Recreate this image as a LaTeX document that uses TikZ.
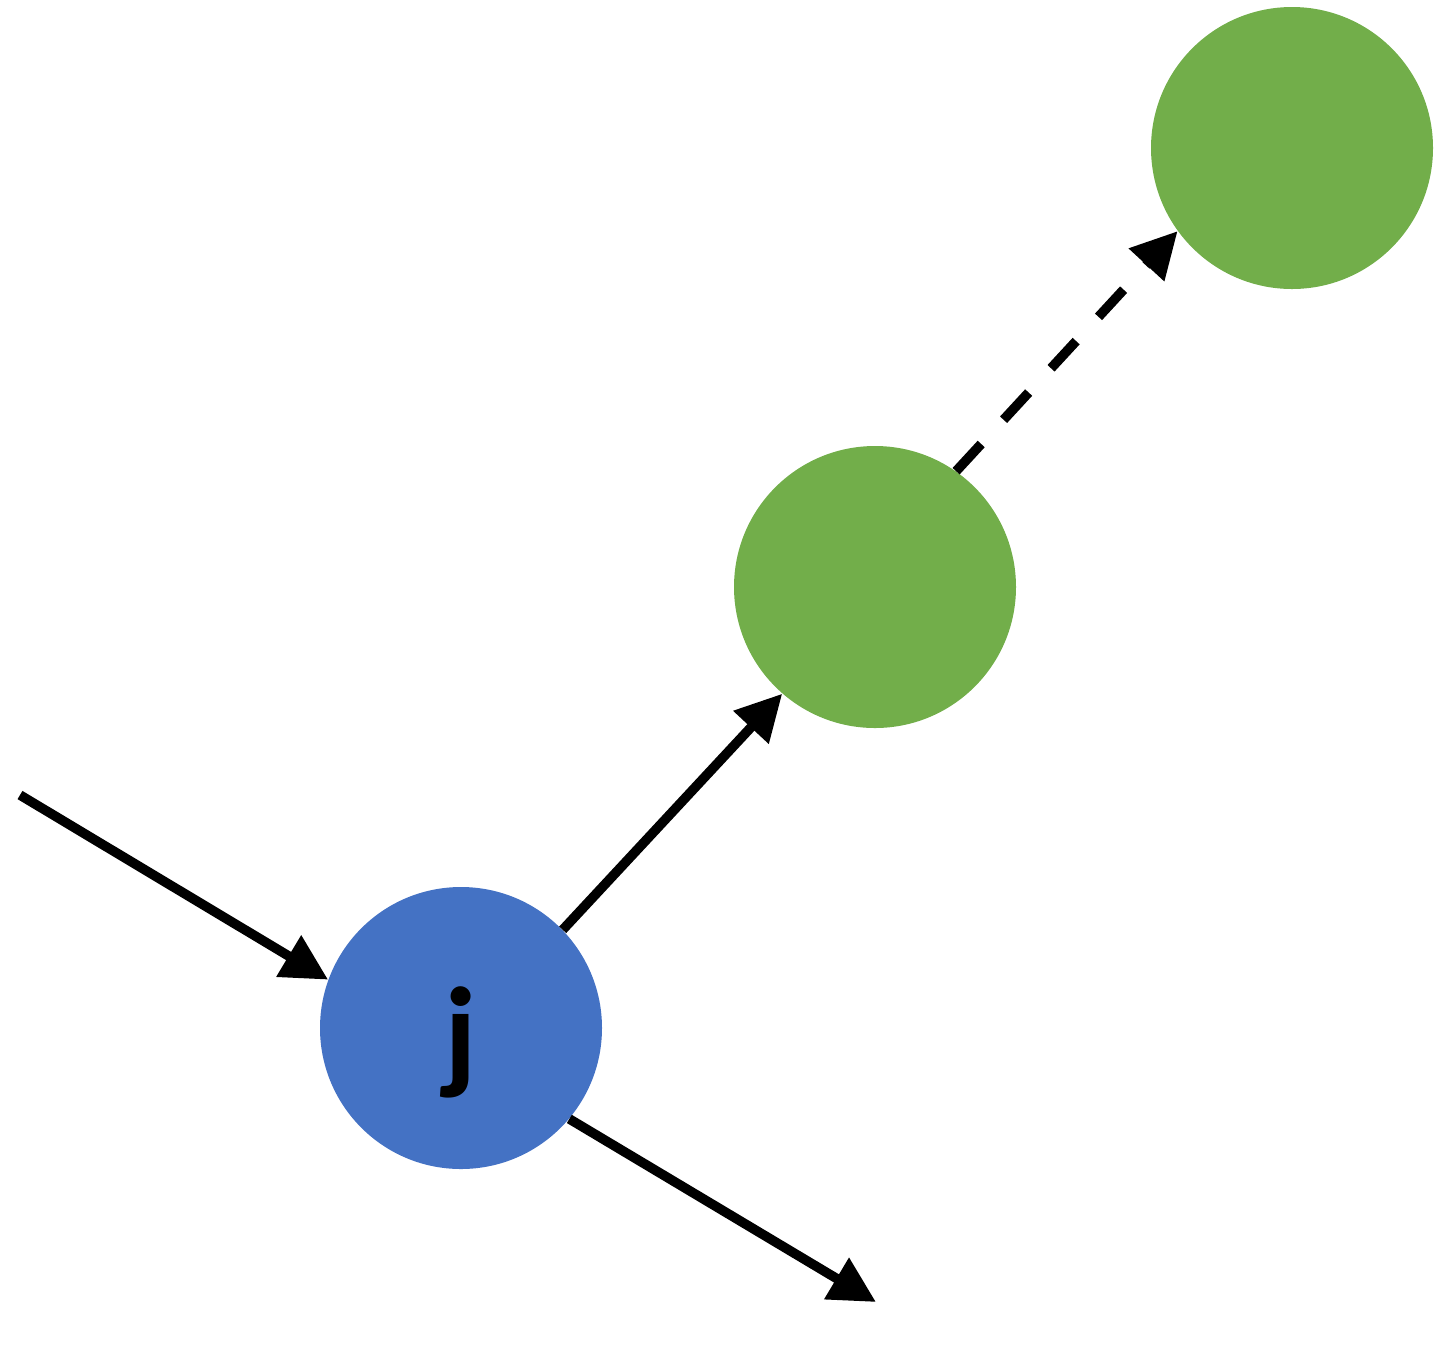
\documentclass[tikz,border=0pt]{standalone}
\usepackage{fontspec}
\setmainfont{Carlito}
\usetikzlibrary{arrows.meta}
\definecolor{nodeblue}{HTML}{4472C4}
\definecolor{nodegreen}{HTML}{72AE4A}
\begin{document}
\begin{tikzpicture}[x=0.5pt,y=-0.5pt,
  dot/.style={circle,inner sep=0pt,minimum size=141pt,draw=none},
  conn/.style={line width=4.8pt,-{Triangle[length=23pt,width=23pt]}},
  dashconn/.style={conn,dash pattern=on 18.5pt off 16.5pt}]
\useasboundingbox (0,0) rectangle (1451,1351);
\node[dot,fill=nodeblue] (j) at (461,1028) {};
\node[font=\bfseries\fontsize{64}{72}\selectfont,inner sep=0pt,anchor=base] (jl) at (461,1076) {j};
\node[dot,fill=nodegreen] (a) at (875,587) {};
\node[dot,fill=nodegreen] (b) at (1292,148) {};
\coordinate (in) at (20,795);
\coordinate (out) at (876,1302);
\draw[conn] (in) -- (j.160);
\draw[conn] (j.-40) -- (out);
\draw[conn] (j.44.7) -- (a.229);
\draw[dashconn] (a.55.6) -- (b.216.7);
\end{tikzpicture}
\end{document}
